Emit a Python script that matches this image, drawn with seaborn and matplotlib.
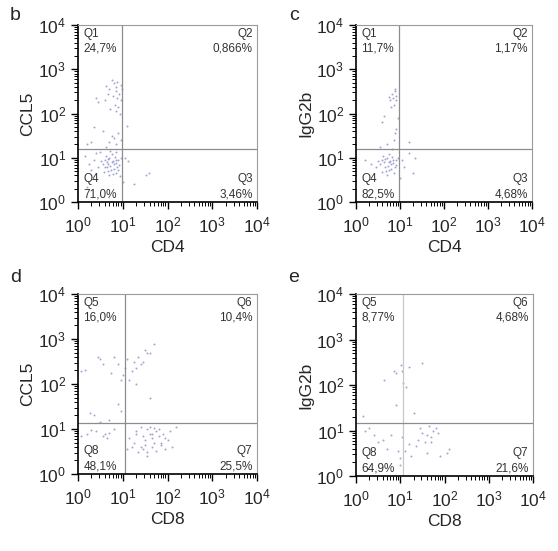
import numpy as np
import pandas as pd
import matplotlib
matplotlib.use("Agg")
import matplotlib.pyplot as plt
import seaborn as sns
from matplotlib.ticker import LogLocator, LogFormatterMathtext, NullFormatter

sns.set_style("ticks")
plt.rcParams['font.family'] = ['Liberation Sans', 'DejaVu Sans']

# ---- data (log10 values of events) ----
b_logx = [0.62,0.80,0.88,0.95,0.70,0.85,0.92,0.78,0.60,0.88,0.95,0.82,0.90,0.72,0.40,0.45,0.98,0.86,0.66,0.76,0.84,0.93,
          0.35,0.90,0.80,0.95,0.30,0.55,0.85,0.70,0.20,1.10,0.75,0.62,
          0.55,0.60,0.65,0.70,0.75,0.80,0.85,0.90,0.62,0.68,0.72,0.78,0.82,0.88,0.58,0.66,0.74,0.80,0.86,0.92,0.64,0.70,0.76,0.84,0.90,0.52,0.60,0.68,0.78,0.95,0.45,0.35,0.25,0.15,0.30,0.40,0.50,0.72,0.86,0.94,
          1.05,1.12,1.25,1.52,1.58,1.00,0.20]
b_logy = [2.62,2.68,2.72,2.65,2.55,2.50,2.45,2.40,2.30,2.35,2.30,2.20,2.15,2.10,2.35,2.25,2.55,2.05,2.45,2.75,2.60,2.00,
          1.70,1.55,1.45,1.40,1.35,1.60,1.30,1.35,1.30,1.72,1.50,1.25,
          0.85,0.95,0.80,1.00,0.90,0.75,0.88,0.95,1.05,0.70,0.82,0.92,1.02,0.78,0.68,0.98,0.72,0.86,0.66,0.84,0.90,0.60,1.08,0.94,0.72,0.92,0.78,0.86,0.64,1.00,0.80,0.95,0.85,1.05,0.72,1.10,1.12,1.15,1.12,0.58,
          1.00,0.92,0.40,0.60,0.66,0.45,0.35]

c_logx = [0.82,0.88,0.90,0.85,0.78,0.92,0.86,0.80,0.75,0.88,
          0.64,0.95,0.88,0.86,0.70,0.60,0.92,1.20,0.55,0.82,
          0.55,0.60,0.65,0.70,0.75,0.80,0.85,0.90,0.62,0.68,0.72,0.78,0.82,0.88,0.58,0.66,0.74,0.80,0.86,0.92,0.64,0.70,0.76,0.84,0.50,0.45,0.35,0.20,0.95,
          1.05,1.10,1.30,1.35,1.20,1.00]
c_logy = [2.45,2.50,2.40,2.35,2.30,2.30,2.20,2.15,2.38,2.55,
          1.95,1.90,1.55,1.40,1.30,1.80,1.65,1.35,1.25,1.20,
          0.85,0.95,0.80,1.00,0.90,0.75,0.88,0.95,1.05,0.70,0.82,0.92,1.02,0.78,0.68,0.98,0.72,0.86,0.66,0.84,0.90,0.60,1.08,0.94,0.92,0.78,0.86,0.95,1.00,
          0.95,0.80,0.65,1.00,1.10,0.55]

d_logx = [0.90,1.10,1.25,1.35,1.50,1.55,1.62,1.70,1.40,1.30,1.20,1.05,1.00,1.45,1.15,0.74,0.95,1.30,
          0.07,0.15,0.45,0.50,0.55,0.80,
          1.60,0.27,0.35,0.95,0.90,0.70,0.50,
          0.07,0.20,0.40,0.55,0.60,0.65,0.70,0.30,0.80,
          1.15,1.25,1.30,1.40,1.45,1.50,1.55,1.60,1.65,1.70,1.75,1.80,1.85,1.90,1.95,2.00,2.10,2.20,1.35,1.45,1.55,1.65,1.75,1.85,1.60,1.70,1.50,1.40,1.30,1.20,1.10,1.55,1.80,1.95,2.05,1.65]
d_logy = [2.45,2.55,2.50,2.60,2.75,2.70,2.70,2.88,2.45,2.35,2.30,2.35,2.20,2.50,2.10,2.25,2.10,2.00,
          2.30,2.32,2.60,2.55,2.45,2.60,
          1.70,1.35,1.32,1.40,1.55,1.20,1.15,
          0.85,0.90,0.95,0.85,0.88,0.80,0.92,0.98,1.00,
          0.80,0.70,0.95,0.60,0.85,0.75,1.00,0.90,0.80,0.70,0.95,0.85,0.65,0.90,0.80,0.75,0.60,1.05,0.50,0.55,0.48,0.60,0.52,0.70,1.05,1.02,0.65,1.05,0.90,0.60,0.55,0.40,1.00,0.55,0.95,0.88]

e_logx = [1.02,1.20,1.50,1.05,0.90,0.85,0.63,1.06,1.13,0.90,1.31,0.16,
          0.30,0.50,0.60,0.80,1.05,1.20,1.40,1.55,1.60,1.70,1.75,1.80,1.85,1.65,1.50,1.35,1.25,1.60,1.90,2.05,2.10,1.00,0.95,1.10,0.70,0.40,0.20,1.45,1.70,1.00]
e_logy = [2.44,2.40,2.48,2.30,2.26,2.30,2.10,2.05,1.95,1.56,1.38,1.32,
          1.05,0.75,0.80,0.90,0.85,0.70,0.80,0.75,0.90,0.85,1.00,1.05,0.95,1.10,0.95,0.65,0.45,0.50,0.45,0.50,0.60,0.40,0.55,0.55,0.60,0.90,1.00,1.05,0.75,0.25]

panel_letters = ["b", "c", "d", "e"]
x_labels = ["CD4", "CD4", "CD8", "CD8"]
y_labels = ["CCL5", "IgG2b", "CCL5", "IgG2b"]
quad_names = [["Q1", "Q2", "Q3", "Q4"], ["Q1", "Q2", "Q3", "Q4"],
              ["Q5", "Q6", "Q7", "Q8"], ["Q5", "Q6", "Q7", "Q8"]]
quad_pcts = [["24,7%", "0,866%", "3,46%", "71,0%"],
             ["11,7%", "1,17%", "4,68%", "82,5%"],
             ["16,0%", "10,4%", "25,5%", "48,1%"],
             ["8,77%", "4,68%", "21,6%", "64,9%"]]
gate_x = [10**0.98, 10**0.97, 10**1.05, 10**1.06]
gate_y = [10**1.2, 10**1.2, 10**1.13, 10**1.16]

panels = [(b_logx, b_logy), (c_logx, c_logy), (d_logx, d_logy), (e_logx, e_logy)]

W, H = 558, 551
fig = plt.figure(figsize=(W/100, H/100), dpi=100)
boxes = [(78, 25, 179, 177), (356, 25, 176, 177), (78, 294, 179, 180), (356, 294, 177, 182)]
letter_pos = [(10, 16), (289, 16), (10, 278), (288, 277)]

for i, ((lx, ly), (x0, y0, w, h)) in enumerate(zip(panels, boxes)):
    ax = fig.add_axes([x0/W, 1-(y0+h)/H, w/W, h/H])
    df = pd.DataFrame({"x": np.power(10.0, lx), "y": np.power(10.0, ly)})
    sns.scatterplot(data=df, x="x", y="y", ax=ax, s=2, color="#4b4ba8",
                    alpha=0.5, linewidth=0, legend=False)
    ax.set_xscale("log")
    ax.set_yscale("log")
    ax.set_xlim(1, 1e4)
    ax.set_ylim(1, 1e4)
    for axis in (ax.xaxis, ax.yaxis):
        axis.set_major_locator(LogLocator(base=10, numticks=10))
        axis.set_major_formatter(LogFormatterMathtext())
        axis.set_minor_locator(LogLocator(base=10, subs=np.arange(2, 10), numticks=20))
        axis.set_minor_formatter(NullFormatter())
    ax.tick_params(which="major", length=5, width=1, labelsize=12.5, color="black")
    ax.tick_params(axis="x", which="major", pad=5)
    ax.tick_params(which="minor", length=3, width=0.7, color="black")
    for s in ["left", "bottom"]:
        ax.spines[s].set_color("black")
        ax.spines[s].set_linewidth(1.2)
    for s in ["top", "right"]:
        ax.spines[s].set_color("#9a9a9a")
        ax.spines[s].set_linewidth(0.8)
    vcol = "#c8c8c8" if i == 3 else "#8c8c8c"
    ax.axvline(gate_x[i], color=vcol, lw=0.9)
    ax.axhline(gate_y[i], color="#8c8c8c", lw=0.9)
    ax.set_xlabel(x_labels[i], fontsize=12.5, labelpad=3)
    ax.set_ylabel(y_labels[i], fontsize=12.5, labelpad=2)
    names, pcts = quad_names[i], quad_pcts[i]
    tk = dict(transform=ax.transAxes, fontsize=8.5, color="#333333", linespacing=1.35)
    ax.text(0.03, 0.985, f"{names[0]}\n{pcts[0]}", ha="left", va="top", **tk)
    ax.text(0.975, 0.985, f"{names[1]}\n{pcts[1]}", ha="right", va="top", **tk)
    ax.text(0.975, 0.01, f"{names[2]}\n{pcts[2]}", ha="right", va="bottom", multialignment="right", **tk)
    ax.text(0.03, 0.01, f"{names[3]}\n{pcts[3]}", ha="left", va="bottom", **tk)
    lxp, lyp = letter_pos[i]
    fig.text(lxp/W, 1-lyp/H, panel_letters[i], fontsize=14, ha="left", va="center")

fig.savefig("out.png", dpi=100, facecolor="white")
